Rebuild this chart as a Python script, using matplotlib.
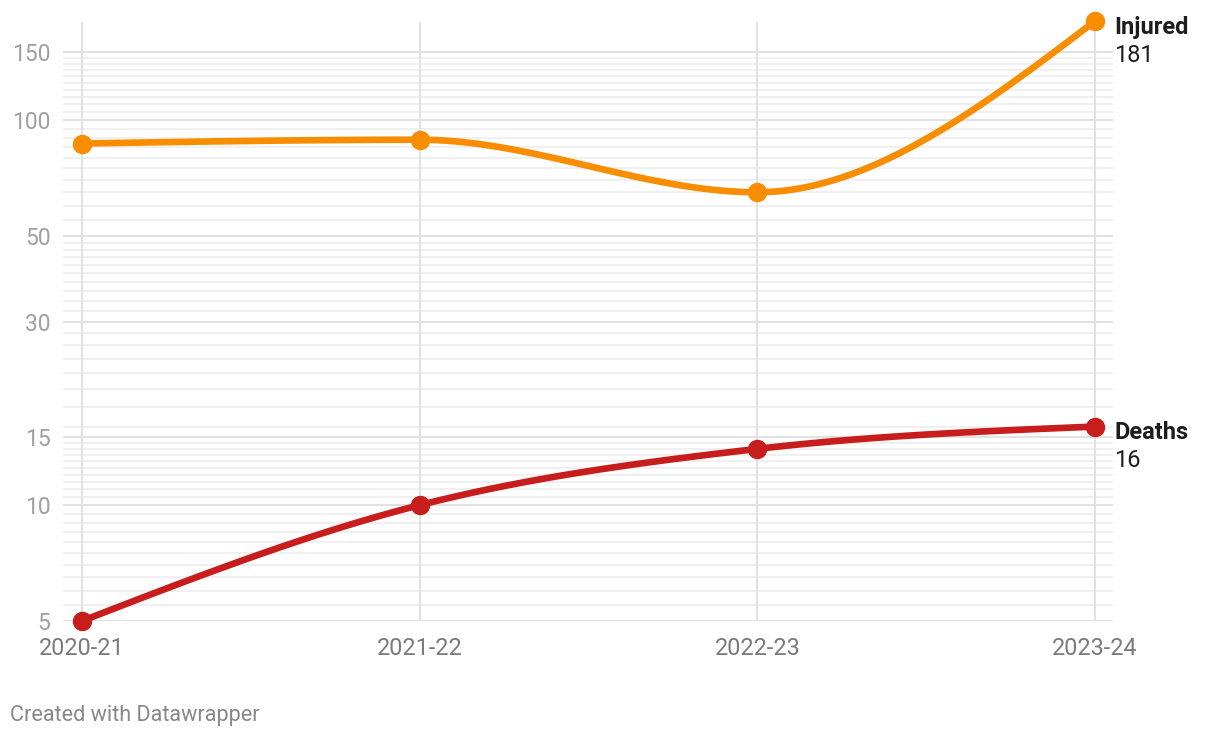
import numpy as np
import matplotlib
matplotlib.use("Agg")
import matplotlib.pyplot as plt
from matplotlib.ticker import FixedLocator, NullFormatter

plt.rcParams['font.family'] = ['Roboto', 'DejaVu Sans']

# data
seasons = ['2020-21', '2021-22', '2022-23', '2023-24']
injured = [87, 89, 65, 181]
deaths = [5, 10, 14, 16]

major_ticks = [5, 10, 15, 30, 50, 100, 150]
minor_ticks = (list(np.arange(5.5, 15, 0.5)) + list(range(16, 30, 2))
               + list(range(32, 50, 2)) + list(range(55, 150, 5)))

ORANGE = '#f98d00'
RED = '#c71e1d'


def monotone_curve(xs, ys, n=40):
    # d3 curveMonotoneX, computed in (x, log10 y) space
    x = np.asarray(xs, float)
    y = np.log10(np.asarray(ys, float))
    h = np.diff(x)
    s = np.diff(y) / h
    t = np.zeros_like(y)
    for i in range(1, len(x) - 1):
        p = (s[i - 1] * h[i] + s[i] * h[i - 1]) / (h[i - 1] + h[i])
        t[i] = (np.sign(s[i - 1]) + np.sign(s[i])) * min(abs(s[i - 1]), abs(s[i]), 0.5 * abs(p))
    t[0] = (3 * s[0] - t[1]) / 2
    t[-1] = (3 * s[-1] - t[-2]) / 2
    px, py = [], []
    u = np.linspace(0, 1, n)
    for i in range(len(x) - 1):
        dx = (x[i + 1] - x[i]) / 3
        P = [(x[i], y[i]), (x[i] + dx, y[i] + dx * t[i]),
             (x[i + 1] - dx, y[i + 1] - dx * t[i + 1]), (x[i + 1], y[i + 1])]
        bx = ((1 - u) ** 3 * P[0][0] + 3 * (1 - u) ** 2 * u * P[1][0]
              + 3 * (1 - u) * u ** 2 * P[2][0] + u ** 3 * P[3][0])
        by = ((1 - u) ** 3 * P[0][1] + 3 * (1 - u) ** 2 * u * P[1][1]
              + 3 * (1 - u) * u ** 2 * P[2][1] + u ** 3 * P[3][1])
        px.extend(bx)
        py.extend(by)
    return np.array(px), 10 ** np.array(py)


fig = plt.figure(figsize=(12.2, 7.38), dpi=100)
ax = fig.add_axes([63 / 1220, 117 / 738, (1113 - 63) / 1220, (621 - 22) / 738])
ax.set_yscale('log')

xpos = np.arange(len(seasons))
for vals, color in [(injured, ORANGE), (deaths, RED)]:
    cx, cy = monotone_curve(xpos, vals)
    ax.plot(cx, cy, color=color, lw=4.8, solid_capstyle='round', zorder=3, clip_on=False)
    ax.plot(xpos, vals, 'o', color=color, ms=13, zorder=4, clip_on=False)

ax.set_xlim(-0.056, 3.053)
ax.set_ylim(5, 180)

ax.yaxis.set_major_locator(FixedLocator(major_ticks))
ax.yaxis.set_minor_locator(FixedLocator(minor_ticks))
ax.yaxis.set_minor_formatter(NullFormatter())
ax.set_yticklabels([str(v) for v in major_ticks])
ax.set_xticks(xpos)
ax.set_xticklabels(seasons)

for v in minor_ticks:
    ax.axhline(v, color='#efefef', lw=1.3, zorder=0)
for v in major_ticks:
    ax.axhline(v, color='#e2e2e2', lw=1.5, zorder=1)
for xv in xpos:
    ax.axvline(xv, color='#e2e2e2', lw=1.5, zorder=1)

ax.tick_params(axis='both', which='both', length=0)
ax.tick_params(axis='y', labelsize=16.5, labelcolor='#a0a0a0', pad=9)
ax.tick_params(axis='x', labelsize=16.8, labelcolor='#7a7a7a', pad=11.5)
for sp in ax.spines.values():
    sp.set_visible(False)

# end labels
for name, vals in [('Injured', injured), ('Deaths', deaths)]:
    ax.annotate(name, xy=(3, vals[-1]), xytext=(14, -4.5), textcoords='offset points',
                ha='left', va='center', fontsize=17, fontweight='bold', color='#1d1d1d',
                annotation_clip=False)
    ax.annotate(str(vals[-1]), xy=(3, vals[-1]), xytext=(14, -24.5), textcoords='offset points',
                ha='left', va='center', fontsize=17, color='#1d1d1d',
                annotation_clip=False)

fig.text(10 / 1220, 1 - 715 / 738, 'Created with Datawrapper', fontsize=15.6,
         color='#888888', ha='left', va='center')

fig.savefig('out.png', dpi=100)
